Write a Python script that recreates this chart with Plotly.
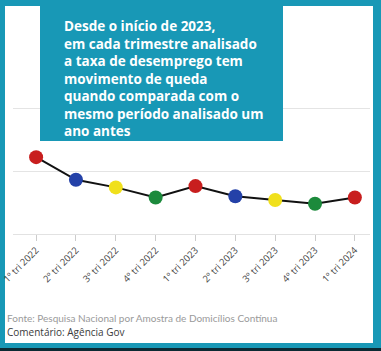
import plotly.graph_objects as go

W, H = 381, 351

quarters = ["1º tri 2022", "2º tri 2022", "3º tri 2022", "4º tri 2022",
            "1º tri 2023", "2º tri 2023", "3º tri 2023", "4º tri 2023", "1º tri 2024"]
taxa = [11.1, 9.3, 8.7, 7.9, 8.8, 8.0, 7.7, 7.4, 7.9]
point_colors = ["#c81e1e", "#2441a8", "#f0e01c", "#1c8a3c",
                "#c81e1e", "#2441a8", "#f0e01c", "#1c8a3c", "#c81e1e"]

title_lines = ["Desde o início de 2023,", "em cada trimestre analisado",
               "a taxa de desemprego tem", "movimento de queda",
               "quando comparada com o", "mesmo período analisado um", "ano antes"]
fonte = "Fonte: Pesquisa Nacional por Amostra de Domicílios Contínua"
comentario = "Comentário: Agência Gov"

teal = "#1898b6"

fig = go.Figure()
fig.add_trace(go.Scatter(
    x=quarters, y=taxa, mode="lines+markers",
    line=dict(color="#111111", width=2),
    marker=dict(size=14, color=point_colors, line=dict(width=0)),
    hoverinfo="skip", showlegend=False,
))

def px(x):
    return x / W

def py(y):
    return 1 - y / H

shapes = [
    dict(type="rect", xref="paper", yref="paper", x0=px(5), x1=px(373), y0=py(343), y1=py(6),
         fillcolor="white", line=dict(width=0), layer="below"),
    dict(type="rect", xref="paper", yref="paper", x0=0, x1=1, y0=0, y1=py(348),
         fillcolor="#0b2a33", line=dict(width=0), layer="below"),
    dict(type="rect", xref="paper", yref="paper", x0=px(40), x1=px(283), y0=py(141), y1=1,
         fillcolor=teal, line=dict(width=0), layer="above"),
]

annotations = [
    dict(xref="paper", yref="paper", x=px(62), y=py(15), xanchor="left", yanchor="top",
         text="<br>".join(title_lines), showarrow=False, align="left",
         font=dict(family="Open Sans", size=13.5, color="white", weight="bold")),
    dict(xref="paper", yref="paper", x=px(5), y=py(318), xanchor="left", yanchor="middle",
         text=fonte, showarrow=False, align="left",
         font=dict(family="Lato", size=10, color="#9a9a9a")),
    dict(xref="paper", yref="paper", x=px(5), y=py(332), xanchor="left", yanchor="middle",
         text=comentario, showarrow=False, align="left",
         font=dict(family="Open Sans", size=10, color="#3a3a3a")),
]

fig.update_layout(
    width=W, height=H,
    margin=dict(l=0, r=0, t=0, b=0, autoexpand=False),
    paper_bgcolor=teal,
    plot_bgcolor="rgba(0,0,0,0)",
    shapes=shapes,
    annotations=annotations,
    xaxis=dict(
        domain=[px(13), px(370)],
        range=[-0.58, 8.38],
        type="category",
        automargin=False,
        showgrid=False, zeroline=False,
        showline=True, linecolor="#e2e2e2", linewidth=1,
        ticks="outside", ticklen=6, tickcolor="#cccccc",
        tickangle=-45,
        tickfont=dict(family="Open Sans", size=9.5, color="#444444"),
        fixedrange=True,
    ),
    yaxis=dict(
        domain=[py(234), py(45)],
        range=[5, 20],
        tickvals=[5, 10, 15],
        showticklabels=False,
        automargin=False,
        showgrid=True, gridcolor="#e4e4e4", gridwidth=1,
        zeroline=False, showline=False,
        fixedrange=True,
    ),
)

fig.write_html("out.html")
